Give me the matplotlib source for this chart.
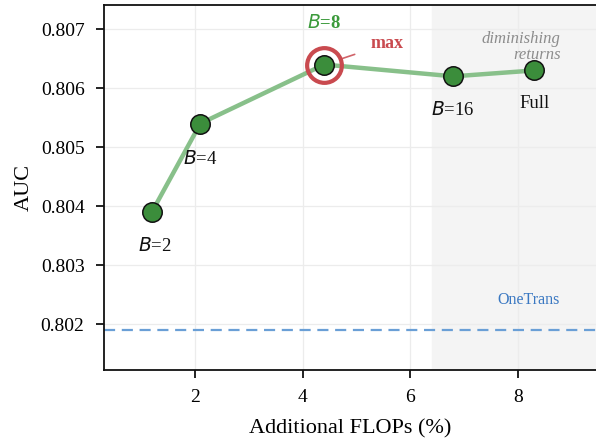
import numpy as np
import matplotlib
matplotlib.use('Agg')
import matplotlib.pyplot as plt

plt.rcParams['font.family'] = 'serif'
plt.rcParams['font.serif'] = ['Liberation Serif', 'DejaVu Serif']
plt.rcParams['mathtext.fontset'] = 'dejavusans'

# dane
labels = ['2', '4', '8', '16', 'Full']
flops = np.array([1.2, 2.1, 4.4, 6.8, 8.3])
auc = np.array([0.8039, 0.8054, 0.8064, 0.8062, 0.8063])
onetrans_auc = 0.8019
shade_start = 6.4

# przesuniecia etykiet (piksele)
offsets = [(3, -34), (0, -35), (0, 42), (-1, -34), (0, -33)]

fig = plt.figure(figsize=(5.96, 4.40), dpi=100)
ax = fig.add_axes([104 / 596, 70 / 440, 492 / 596, 365 / 440])

ax.set_xlim(0.31, 9.45)
ax.set_ylim(0.80122, 0.80741)

ax.axvspan(shade_start, 12, color='#f4f4f4', zorder=0)
ax.grid(True, color='#ececec', linewidth=0.9, zorder=0.5)
ax.set_axisbelow(True)

ax.axhline(onetrans_auc, color='#6a9fd6', linestyle='--', linewidth=1.6, dashes=(5, 3), zorder=2)
ax.text(8.2, onetrans_auc + 0.000507, 'OneTrans', color='#3a78c2', fontsize=11.5,
        ha='center', va='center')

ax.plot(flops, auc, color='#88c08a', linewidth=3.2, zorder=3)
ax.plot(flops, auc, 'o', markersize=14, markerfacecolor='#3b8d3b',
        markeredgecolor='#111111', markeredgewidth=1.1, linestyle='none', zorder=4)

# pierscien na maksimum
imax = int(np.argmax(auc))
ax.plot(flops[imax], auc[imax], 'o', markersize=25, markerfacecolor='none',
        markeredgecolor='#c94a4f', markeredgewidth=3, zorder=5)

px = 0.72
for i, (lab, (dx, dy)) in enumerate(zip(labels, offsets)):
    if lab == 'Full':
        txt = 'Full'
    else:
        txt = r'$B$=' + lab
    if i == imax:
        ax.annotate(txt, (flops[i], auc[i]),
                    xytext=(dx * px, dy * px), textcoords='offset points',
                    ha='center', va='center', fontsize=13.5, color='#3b9a3b',
                    fontweight='bold')
    else:
        ax.annotate(txt, (flops[i], auc[i]), xytext=(dx * px, dy * px),
                    textcoords='offset points', ha='center', va='center',
                    fontsize=13.5, color='#111111')

ax.annotate('max', (flops[imax], auc[imax]), xytext=(63 * px, 21 * px),
            textcoords='offset points', ha='center', va='center', fontsize=13,
            color='#c94a4f', fontweight='bold',
            arrowprops=dict(arrowstyle='-', color='#d0646a', linewidth=1.2,
                            shrinkA=10, shrinkB=13))

ax.text(8.79, 0.80670, 'diminishing\nreturns', color='#8c8c8c', fontsize=12,
        style='italic', ha='right', va='center', linespacing=1.05)

ax.set_xticks([2, 4, 6, 8])
ax.set_yticks([0.802, 0.803, 0.804, 0.805, 0.806, 0.807])
ax.yaxis.set_major_formatter(matplotlib.ticker.FormatStrFormatter('%.3f'))
ax.tick_params(labelsize=14, length=6, width=1.3, color='#111111')
ax.tick_params(axis='x', pad=7.5)
ax.tick_params(axis='y', pad=8)
ax.set_xlabel('Additional FLOPs (%)', fontsize=16, labelpad=10)
ax.set_ylabel('AUC', fontsize=16, labelpad=5)

for s in ['left', 'bottom', 'top']:
    ax.spines[s].set_linewidth(1.3)
    ax.spines[s].set_color('#111111')
ax.spines['right'].set_visible(False)

fig.savefig('out.png', dpi=100)
